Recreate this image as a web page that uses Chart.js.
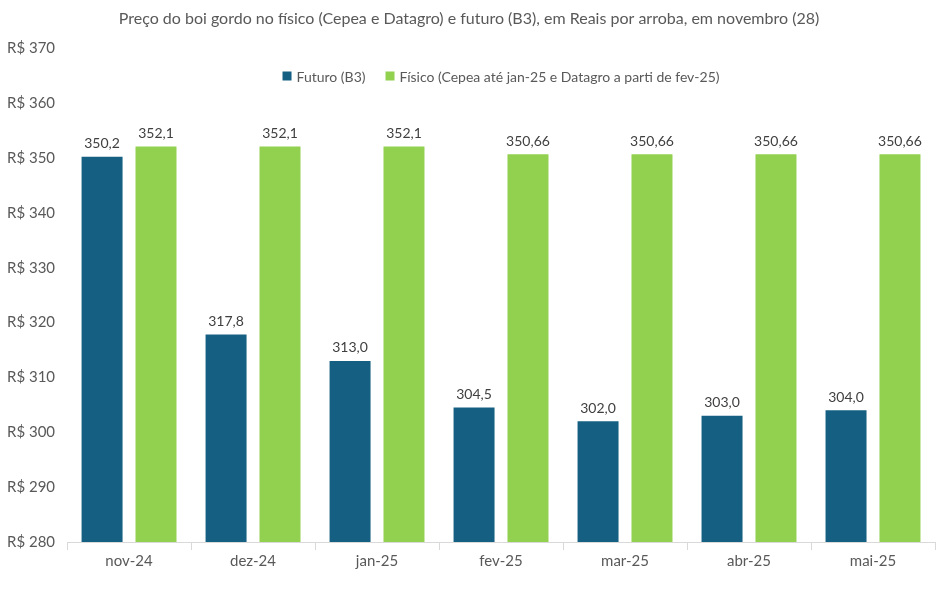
<!DOCTYPE html>
<html>
<head>
<meta charset="utf-8">
<script src="https://cdn.jsdelivr.net/npm/chart.js@4"></script>
<style>
    body { margin: 0; background: #fff; }
    #wrap { width: 948px; height: 590px; }
</style>
</head>
<body>
<div id="wrap"><canvas id="barChart"></canvas></div>
<script>
// Данные графика
const months = ['nov-24', 'dez-24', 'jan-25', 'fev-25', 'mar-25', 'abr-25', 'mai-25'];
const futuro = [350.2, 317.8, 313.0, 304.5, 302.0, 303.0, 304.0];
const fisico = [352.1, 352.1, 352.1, 350.66, 350.66, 350.66, 350.66];
const seriesNames = ['Futuro (B3)', 'Físico (Cepea até jan-25 e Datagro a parti de fev-25)'];
const yTicks = [280, 290, 300, 310, 320, 330, 340, 350, 360, 370];

const fontFamily = 'Lato, "Open Sans", sans-serif';
const textColor = '#595959';

// Подписи значений над столбцами
const valueLabels = {
    id: 'valueLabels',
    afterDatasetsDraw(chart) {
        const ctx = chart.ctx;
        ctx.save();
        ctx.font = '14px ' + fontFamily;
        ctx.fillStyle = '#404040';
        ctx.textAlign = 'center';
        ctx.textBaseline = 'bottom';
        chart.data.datasets.forEach((ds, i) => {
            chart.getDatasetMeta(i).data.forEach((bar, j) => {
                const v = ds.data[j];
                const txt = i === 0 ? v.toFixed(1).replace('.', ',') : String(v).replace('.', ',');
                ctx.fillText(txt, bar.x, bar.y - 6);
            });
        });
        ctx.restore();
    }
};

// Легенда внутри области графика
const innerLegend = {
    id: 'innerLegend',
    afterDraw(chart) {
        const ctx = chart.ctx;
        const area = chart.chartArea;
        ctx.save();
        ctx.font = '14px ' + fontFamily;
        ctx.textBaseline = 'middle';
        const box = 9, gap = 5, between = 20;
        const widths = chart.data.datasets.map(ds => box + gap + ctx.measureText(ds.label).width);
        const total = widths.reduce((a, b) => a + b, 0) + between * (widths.length - 1);
        let x = (area.left + area.right) / 2 - total / 2;
        const y = 76;
        chart.data.datasets.forEach((ds, i) => {
            ctx.fillStyle = ds.backgroundColor;
            ctx.fillRect(x, y - box / 2, box, box);
            ctx.fillStyle = textColor;
            ctx.fillText(ds.label, x + box + gap, y + 1);
            x += widths[i] + between;
        });
        ctx.restore();
    }
};

const barChart = new Chart(document.getElementById('barChart').getContext('2d'), {
    type: 'bar',
    data: {
        labels: months,
        datasets: [
            {
                label: seriesNames[0],
                data: futuro,
                backgroundColor: '#156082',
                categoryPercentage: 0.87,
                barPercentage: 0.76
            },
            {
                label: seriesNames[1],
                data: fisico,
                backgroundColor: '#92d050',
                categoryPercentage: 0.87,
                barPercentage: 0.76
            }
        ]
    },
    options: {
        responsive: true,
        maintainAspectRatio: false,
        animation: false,
        layout: {
            padding: { top: 6, right: 13, left: 3, bottom: 18 }
        },
        plugins: {
            legend: { display: false },
            tooltip: { enabled: false },
            title: {
                display: true,
                text: 'Preço do boi gordo no físico (Cepea e Datagro) e futuro (B3), em Reais por arroba, em novembro (28)',
                color: textColor,
                font: { family: fontFamily, size: 16, weight: 'normal' },
                padding: { top: 3, bottom: 20 }
            }
        },
        scales: {
            x: {
                grid: {
                    display: true,
                    offset: true,
                    drawOnChartArea: false,
                    drawTicks: true,
                    tickLength: 8,
                    color: '#d9d9d9'
                },
                border: { display: true, color: '#d9d9d9' },
                ticks: {
                    color: textColor,
                    font: { family: fontFamily, size: 15 },
                    padding: 2
                }
            },
            y: {
                min: 280,
                max: 370,
                afterBuildTicks(axis) {
                    axis.ticks = yTicks.map(v => ({ value: v }));
                },
                grid: { display: false },
                border: { display: false },
                ticks: {
                    color: textColor,
                    font: { family: fontFamily, size: 15 },
                    padding: 4,
                    callback: v => 'R$ ' + v
                }
            }
        }
    },
    plugins: [valueLabels, innerLegend]
});
</script>
</body>
</html>
